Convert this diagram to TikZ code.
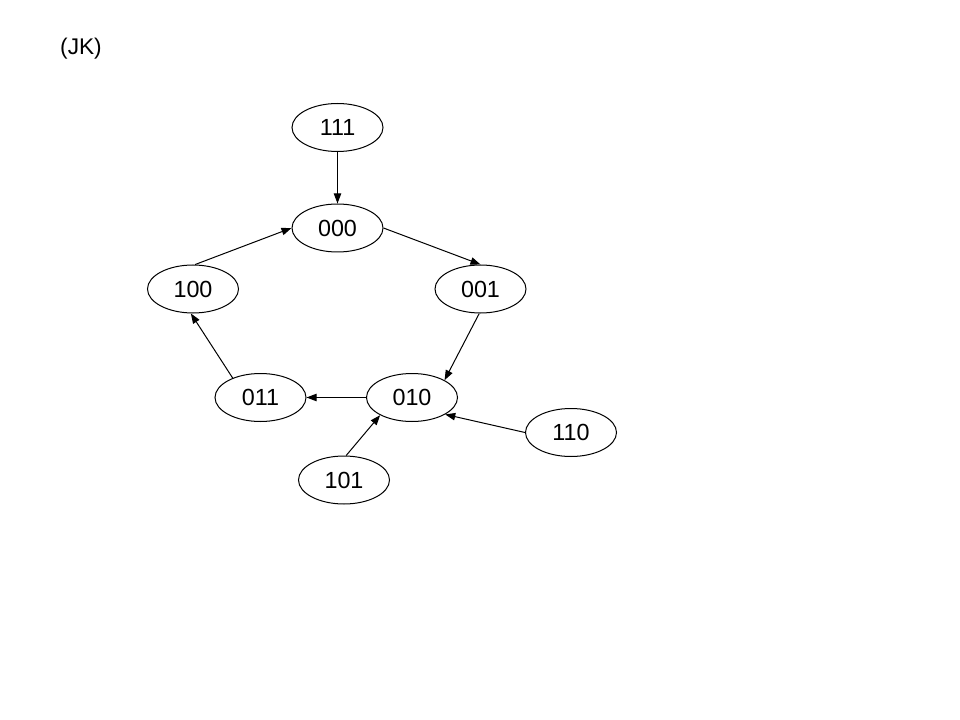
\documentclass[tikz,border=0pt]{standalone}
\usepackage{fontspec}
\setmainfont{Liberation Sans}
\usetikzlibrary{shapes.geometric,arrows.meta}
\begin{document}
\begin{tikzpicture}[x=0.75pt,y=-0.75pt,
  state/.style={draw,ellipse,line width=0.75pt,inner sep=0pt,minimum width=68.25pt,minimum height=36pt,font=\fontsize{17.5pt}{21pt}\selectfont},
  arr/.style={line width=0.75pt,-{Triangle[length=7.5pt,width=5.5pt]}}]
\useasboundingbox (0,0) rectangle (960,720);
\fill[white] (0,0) rectangle (960,720);
\node[font=\fontsize{17pt}{20pt}\selectfont] (title) at (81,49) {(JK)};
\node[state] (s111) at (337.5,127.5) {111};
\node[state] (s000) at (337.5,228) {000};
\node[state] (s100) at (193,289) {100};
\node[state] (s001) at (480.5,289) {001};
\node[state] (s011) at (260.5,397.5) {011};
\node[state] (s010) at (412,397.5) {010};
\node[state] (s110) at (571,432.5) {110};
\node[state] (s101) at (344,480) {101};
\draw[arr] (s111.south) -- (s000.north);
\draw[arr] (s100.85) -- (s000.west);
\draw[arr] (s000.east) -- (s001.north);
\draw[arr] (s001.267) -- (s010.28);
\draw[arr] (s010.west) -- (s011.east);
\draw[arr] (s011.145) -- (s100.265);
\draw[arr] (s101.85) -- (s010.209);
\draw[arr] (s110.west) -- (s010.333);
\end{tikzpicture}
\end{document}
